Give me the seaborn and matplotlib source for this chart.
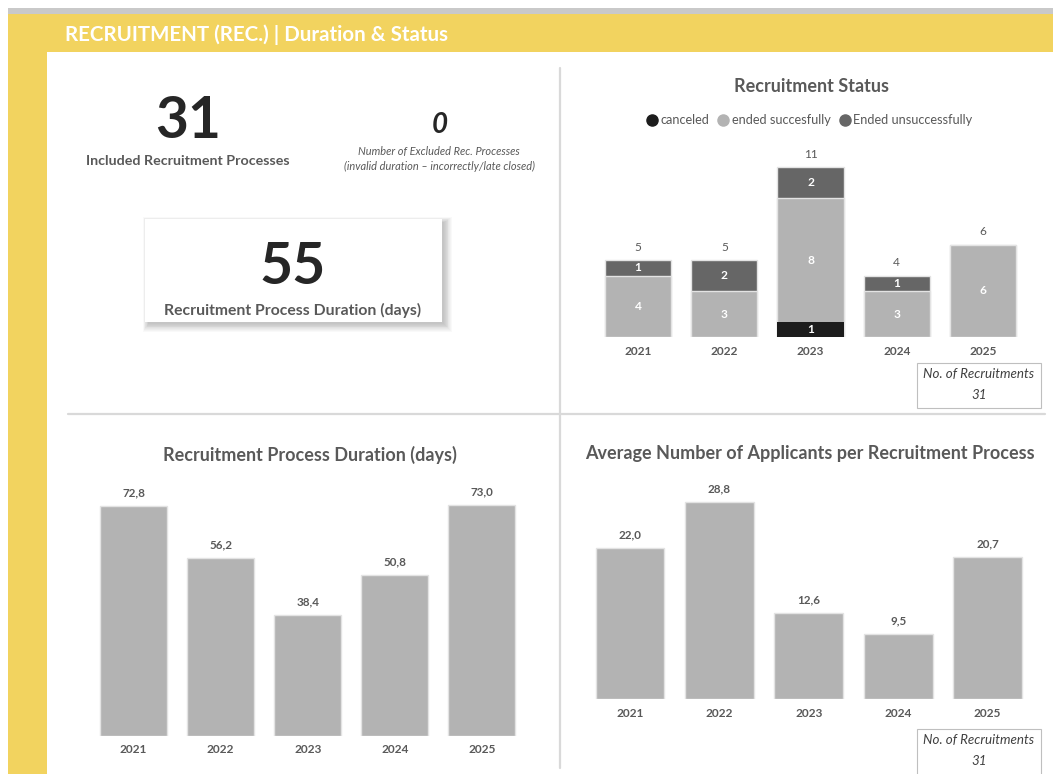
import matplotlib
matplotlib.use("Agg")
import matplotlib.pyplot as plt
import seaborn as sns
import pandas as pd
from matplotlib.patches import Rectangle
from matplotlib.lines import Line2D

# data
years = ['2021', '2022', '2023', '2024', '2025']
canceled = [0, 0, 1, 0, 0]
ended_ok = [4, 3, 8, 3, 6]
ended_not_ok = [1, 2, 2, 1, 0]
duration_days = [72.8, 56.2, 38.4, 50.8, 73.0]
avg_applicants = [22.0, 28.8, 12.6, 9.5, 20.7]
included_processes = 31
excluded_processes = 0
avg_duration = 55
no_of_recruitments = 31

W, H = 1053, 774
YELLOW = '#F2D35F'
BAR = '#B3B3B3'
DARK = '#666666'
BLACK = '#1C1C1C'
TXT = '#595959'

sns.set_theme(style='white')
plt.rcParams['font.family'] = ['Lato', 'DejaVu Sans']

fig = plt.figure(figsize=(W / 100, H / 100), dpi=100)


def fx(x):
    return x / W


def fy(y):
    return 1 - y / H


def px_axes(left, top, width, height):
    return fig.add_axes([left / W, 1 - (top + height) / H, width / W, height / H])


def rect(x0, y0, x1, y1, **kw):
    fig.add_artist(Rectangle((fx(x0), fy(y1)), (x1 - x0) / W, (y1 - y0) / H,
                             transform=fig.transFigure, **kw))


# frame of the dashboard
rect(8, 8, W, 15, color='#C9C9C9', lw=0)
rect(8, 14, W, 52, color=YELLOW, lw=0)
rect(8, 14, 47, H, color=YELLOW, lw=0)
fig.text(fx(65), fy(35), 'RECRUITMENT (REC.) | Duration & Status', color='white',
         fontsize=14.8, fontweight='bold', va='center', ha='left')

# separators
fig.add_artist(Line2D([fx(559.5), fx(559.5)], [fy(68), fy(768)], color='#D9D9D9', lw=1.6))
fig.add_artist(Line2D([fx(68), fx(1045)], [fy(414), fy(414)], color='#D9D9D9', lw=1.6))

# KPI area
fig.text(fx(188), fy(138), str(included_processes), fontsize=41, fontweight='bold',
         color='#262626', ha='center', va='baseline')
fig.text(fx(188), fy(165), 'Included Recruitment Processes', fontsize=10.3,
         fontweight='bold', color=TXT, ha='center', va='baseline')
fig.text(fx(440), fy(133), str(excluded_processes), fontsize=20, fontweight='bold',
         style='italic', color='#262626', ha='center', va='baseline')
fig.text(fx(439), fy(152), 'Number of Excluded Rec. Processes', fontsize=7.9,
         style='italic', color=TXT, ha='center', va='center')
fig.text(fx(439), fy(166), '(invalid duration \u2013 incorrectly/late closed)', fontsize=7.9,
         style='italic', color=TXT, ha='center', va='center')

# card with soft shadow to the lower right
for d in range(10, 0, -1):
    rect(145 + 4 - d * 0.6, 219 + 4 - d * 0.6, 442 + 1 + d * 0.9, 322 + 1 + d * 0.9,
         color='black', alpha=0.022, lw=0)
rect(145, 219, 442, 322, color='white', lw=0)
fig.text(fx(293), fy(284), str(avg_duration), fontsize=41, fontweight='bold',
         color='#262626', ha='center', va='baseline')
fig.text(fx(293), fy(315), 'Recruitment Process Duration (days)', fontsize=11.3,
         fontweight='bold', color=TXT, ha='center', va='baseline')


def style_axes(ax, ytop):
    ax.set_xlim(-0.5, 4.5)
    ax.set_ylim(0, ytop)
    ax.set_xlabel('')
    ax.set_ylabel('')
    ax.set_yticks([])
    sns.despine(ax=ax, left=True, bottom=True)
    ax.patch.set_alpha(0)
    ax.tick_params(axis='x', length=0, pad=6, labelsize=8.6, labelcolor=TXT)
    for lab in ax.get_xticklabels():
        lab.set_fontweight('bold')


# Recruitment Status (stacked)
status = pd.DataFrame({'year': years, 'canceled': canceled,
                       'ok': ended_ok, 'not_ok': ended_not_ok})
status['lvl1'] = status['canceled']
status['lvl2'] = status['canceled'] + status['ok']
status['total'] = status['lvl2'] + status['not_ok']

ax1 = px_axes(595, 150, 431, 187.3)
sns.barplot(data=status, x='year', y='total', color=DARK, saturation=1, width=0.77,
            edgecolor='#E3E3E3', linewidth=1, ax=ax1)
sns.barplot(data=status, x='year', y='lvl2', color=BAR, saturation=1, width=0.77,
            edgecolor='#E3E3E3', linewidth=1, ax=ax1)
sns.barplot(data=status, x='year', y='lvl1', color=BLACK, saturation=1, width=0.77,
            linewidth=0, ax=ax1)
style_axes(ax1, 187.3 / 15.45)
for i, r in status.iterrows():
    for val, bottom in [(r['canceled'], 0), (r['ok'], r['lvl1']), (r['not_ok'], r['lvl2'])]:
        if val > 0:
            ax1.text(i, bottom + val / 2, str(val), color='white', fontsize=8.6,
                     fontweight='bold', ha='center', va='center')
    ax1.annotate(str(r['total']), (i, r['total']), xytext=(0, 9.2), textcoords='offset points',
                 ha='center', va='center', fontsize=8.6, color=TXT)

fig.text(fx(811), fy(87), 'Recruitment Status', fontsize=13, fontweight='bold',
         color=TXT, ha='center', va='center')
handles = [Line2D([], [], marker='o', ls='', markersize=8, color=c, label=l)
           for c, l in [(BLACK, 'canceled'), (BAR, 'ended succesfully'),
                        (DARK, 'Ended unsuccessfully')]]
fig.legend(handles=handles, loc='center', bbox_to_anchor=(fx(809), fy(120)), ncol=3,
           frameon=False, fontsize=9.2, labelcolor=TXT, handletextpad=0.15,
           columnspacing=0.6, handlelength=1.0, borderpad=0)


def count_box(x0, y0, x1, y1):
    rect(x0, y0, x1, y1, facecolor='white', edgecolor='#BFBFBF', lw=0.8)
    xc = (x0 + x1) / 2
    fig.text(fx(xc), fy(y0 + 11), 'No. of Recruitments', fontsize=9.6, style='italic',
             color='#404040', ha='center', va='center')
    fig.text(fx(xc), fy(y0 + 32), str(no_of_recruitments), fontsize=9.6, style='italic',
             color='#404040', ha='center', va='center')


count_box(916.5, 363, 1041, 408)
count_box(916.5, 729, 1041, 790)


def simple_bars(ax, values, ytop, title, title_x, title_y):
    sns.barplot(x=years, y=values, color=BAR, saturation=1, width=0.77,
                edgecolor='#E3E3E3', linewidth=1, ax=ax)
    style_axes(ax, ytop)
    for i, v in enumerate(values):
        ax.annotate(f'{v:.1f}'.replace('.', ','), (i, v), xytext=(0, 9.4),
                    textcoords='offset points', ha='center', va='center',
                    fontsize=8.4, fontweight='bold', color=TXT)
    fig.text(fx(title_x), fy(title_y), title, fontsize=13, fontweight='bold',
             color=TXT, ha='center', va='center')


ax2 = px_axes(90, 470, 435.5, 266)
simple_bars(ax2, duration_days, 266 / 3.164, 'Recruitment Process Duration (days)', 310, 455)

ax3 = px_axes(585.3, 470, 447, 229.3)
simple_bars(ax3, avg_applicants, 229.3 / 6.86,
            'Average Number of Applicants per Recruitment Process', 810, 454)

fig.savefig('out.png', dpi=100)
